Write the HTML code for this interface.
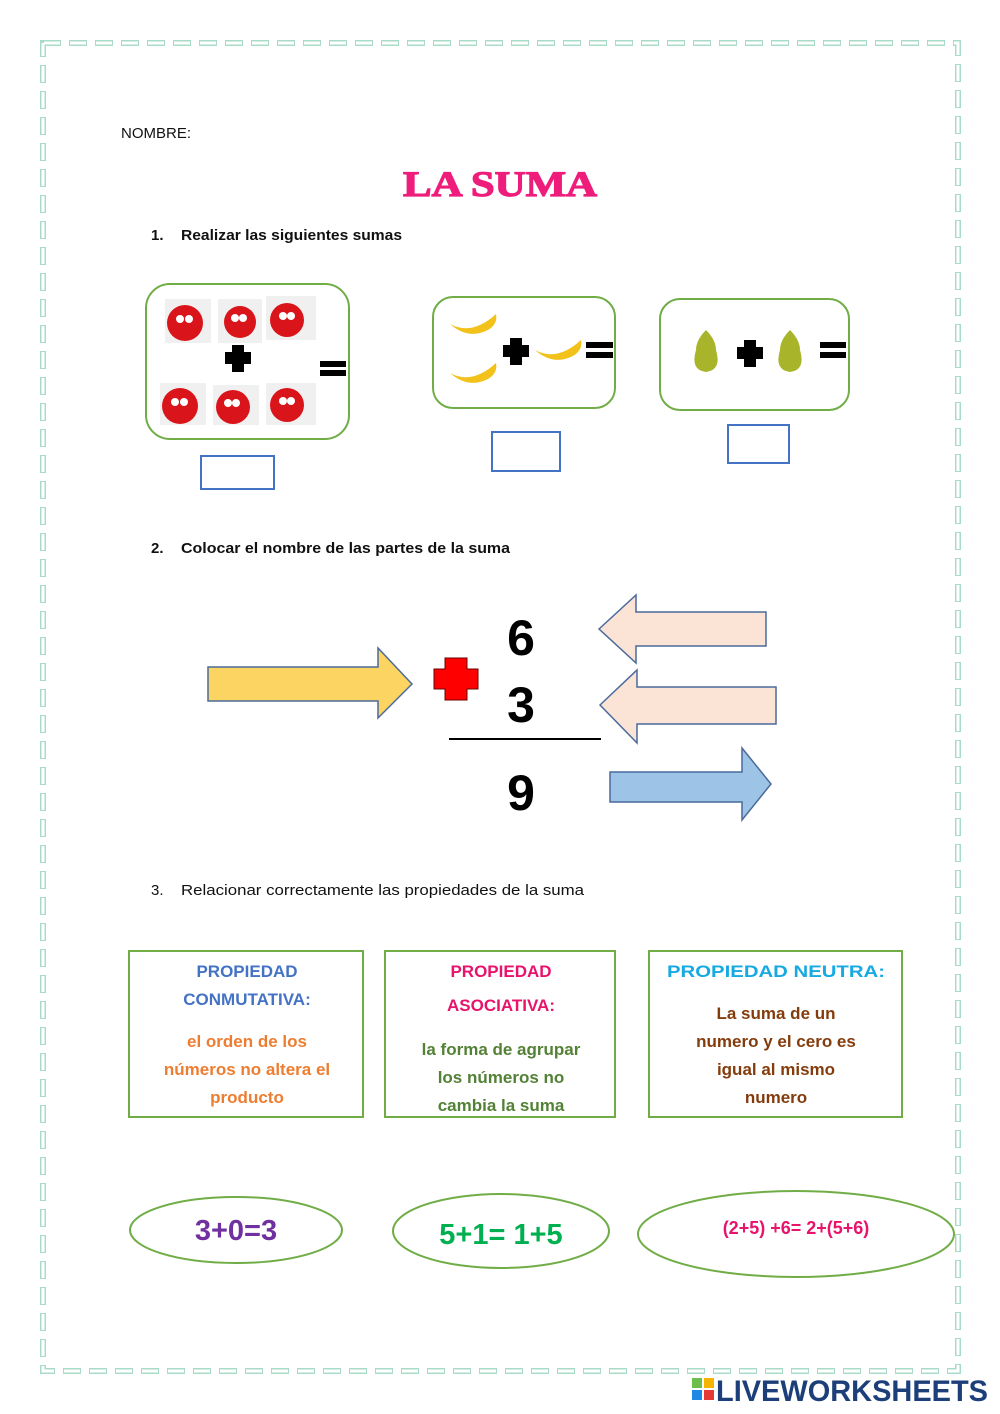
<!DOCTYPE html>
<html><head><meta charset="utf-8"><style>
html,body{margin:0;padding:0;background:#fff;}
svg{display:block;}
text{font-family:"Liberation Sans",Arial,sans-serif;}
</style></head><body>
<svg width="1000" height="1414" viewBox="0 0 1000 1414" xmlns="http://www.w3.org/2000/svg">
<rect x="43" y="43" width="915" height="1328" fill="none" stroke="#a9dcc8" stroke-width="6" stroke-dasharray="18 8"/>
<rect x="43" y="43" width="915" height="1328" fill="none" stroke="#fff" stroke-width="3" stroke-dasharray="16 10" stroke-dashoffset="-1"/>

<text x="121" y="138" font-size="15" fill="#111">NOMBRE:</text>
<text x="403" y="196" font-size="36" font-weight="bold" style="font-family:'Liberation Serif',serif" fill="#ee1c7a" stroke="#ee1c7a" stroke-width="1.2" textLength="194" lengthAdjust="spacingAndGlyphs">LA SUMA</text>
<text x="151" y="240" font-size="15" font-weight="bold" fill="#111">1.</text>
<text x="181" y="240" font-size="15" font-weight="bold" fill="#111" textLength="221" lengthAdjust="spacingAndGlyphs">Realizar las siguientes sumas</text>

<rect x="146" y="284" width="203" height="155" rx="24" fill="#fff" stroke="#70ad47" stroke-width="2"/>
<g fill="#f0f0f0">
<rect x="165" y="299" width="46" height="44"/><rect x="218" y="299" width="44" height="44"/><rect x="266" y="296" width="50" height="44"/>
<rect x="160" y="383" width="46" height="42"/><rect x="213" y="385" width="46" height="40"/><rect x="266" y="383" width="50" height="42"/>
</g>
<g fill="#d9141a">
<circle cx="185" cy="323" r="18"/><circle cx="240" cy="322" r="16"/><circle cx="287" cy="320" r="17"/>
<circle cx="180" cy="406" r="18"/><circle cx="233" cy="407" r="17"/><circle cx="287" cy="405" r="17"/>
</g>
<g fill="#fff"><circle cx="180" cy="319" r="4"/><circle cx="189" cy="319" r="4"/><circle cx="235" cy="318" r="4"/><circle cx="243" cy="318" r="4"/><circle cx="283" cy="316" r="4"/><circle cx="291" cy="316" r="4"/>
<circle cx="175" cy="402" r="4"/><circle cx="184" cy="402" r="4"/><circle cx="228" cy="403" r="4"/><circle cx="236" cy="403" r="4"/><circle cx="283" cy="401" r="4"/><circle cx="291" cy="401" r="4"/></g>
<path d="M232 345h12v7h7v12h-7v8h-12v-8h-7v-12h7z" fill="#000"/>
<rect x="320" y="361" width="26" height="6" fill="#000"/><rect x="320" y="370" width="26" height="6" fill="#000"/>
<rect x="201" y="456" width="73" height="33" fill="none" stroke="#4472c4" stroke-width="2"/>

<rect x="433" y="297" width="182" height="111" rx="20" fill="#fff" stroke="#70ad47" stroke-width="2"/>
<g fill="#f2c21b">
<path d="M450 324q22 12 46-10q2 10-8 16q-20 10-38-6z"/>
<path d="M450 373q22 12 46-10q2 10-8 16q-20 10-38-6z"/>
<path d="M535 350q22 12 46-10q2 10-8 16q-20 10-38-6z"/>
</g>
<path d="M510 338h12v7h7v12h-7v8h-12v-8h-7v-12h7z" fill="#000"/>
<rect x="586" y="342" width="27" height="6" fill="#000"/><rect x="586" y="352" width="27" height="6" fill="#000"/>
<rect x="492" y="432" width="68" height="39" fill="none" stroke="#4472c4" stroke-width="2"/>

<rect x="660" y="299" width="189" height="111" rx="20" fill="#fff" stroke="#70ad47" stroke-width="2"/>
<g fill="#a8b52a">
<path d="M706 330q10 10 10 20q6 20-10 22q-16-2-10-22q0-10 10-20z"/>
<path d="M790 330q10 10 10 20q6 20-10 22q-16-2-10-22q0-10 10-20z"/>
</g>
<path d="M744 340h12v7h7v12h-7v8h-12v-8h-7v-12h7z" fill="#000"/>
<rect x="820" y="342" width="26" height="6" fill="#000"/><rect x="820" y="352" width="26" height="6" fill="#000"/>
<rect x="728" y="425" width="61" height="38" fill="none" stroke="#4472c4" stroke-width="2"/>

<text x="151" y="553" font-size="15" font-weight="bold" fill="#111">2.</text>
<text x="181" y="553" font-size="15" font-weight="bold" fill="#111" textLength="329" lengthAdjust="spacingAndGlyphs">Colocar el nombre de las partes de la suma</text>

<path d="M208 667H378V648L412 684L378 718V701H208Z" fill="#fcd462" stroke="#4a6a9c" stroke-width="1.5"/>
<path d="M599 629L636 595V612H766V646H636V663Z" fill="#fbe3d5" stroke="#4a6a9c" stroke-width="1.5"/>
<path d="M600 705L637 670V687H776V724H637V743Z" fill="#fbe3d5" stroke="#4a6a9c" stroke-width="1.5"/>
<path d="M610 772H742V748L771 784L742 820V802H610Z" fill="#9dc3e6" stroke="#4a6a9c" stroke-width="1.5"/>
<path d="M445 658h22v11h11v20h-11v11h-22v-11h-11v-20h11z" fill="#ff0000" stroke="#6b0000" stroke-width="1"/>
<text x="521" y="655" font-size="50" font-weight="bold" fill="#000" text-anchor="middle">6</text>
<text x="521" y="722" font-size="50" font-weight="bold" fill="#000" text-anchor="middle">3</text>
<line x1="449" y1="739" x2="601" y2="739" stroke="#000" stroke-width="2"/>
<text x="521" y="810" font-size="50" font-weight="bold" fill="#000" text-anchor="middle">9</text>

<text x="151" y="895" font-size="15" fill="#111">3.</text>
<text x="181" y="895" font-size="15" fill="#111" textLength="403" lengthAdjust="spacingAndGlyphs">Relacionar correctamente las propiedades de la suma</text>

<rect x="129" y="951" width="234" height="166" fill="none" stroke="#70ad47" stroke-width="2"/>
<rect x="385" y="951" width="230" height="166" fill="none" stroke="#70ad47" stroke-width="2"/>
<rect x="649" y="951" width="253" height="166" fill="none" stroke="#70ad47" stroke-width="2"/>
<g font-size="17" font-weight="bold" text-anchor="middle">
<text x="247" y="977" fill="#4472c4">PROPIEDAD</text>
<text x="247" y="1005" fill="#4472c4">CONMUTATIVA:</text>
<text x="247" y="1047" fill="#ed7d31">el orden de los</text>
<text x="247" y="1075" fill="#ed7d31">números no altera el</text>
<text x="247" y="1103" fill="#ed7d31">producto</text>
<text x="501" y="977" fill="#e8136b">PROPIEDAD</text>
<text x="501" y="1011" fill="#e8136b">ASOCIATIVA:</text>
<text x="501" y="1055" fill="#538135">la forma de agrupar</text>
<text x="501" y="1083" fill="#538135">los números no</text>
<text x="501" y="1111" fill="#538135">cambia la suma</text>
<text x="776" y="977" fill="#17a9e1" textLength="218" lengthAdjust="spacingAndGlyphs">PROPIEDAD NEUTRA:</text>
<text x="776" y="1019" fill="#843c0c">La suma de un</text>
<text x="776" y="1047" fill="#843c0c">numero y el cero es</text>
<text x="776" y="1075" fill="#843c0c">igual al mismo</text>
<text x="776" y="1103" fill="#843c0c">numero</text>
</g>

<ellipse cx="236" cy="1230" rx="106" ry="33" fill="none" stroke="#70ad47" stroke-width="2"/>
<ellipse cx="501" cy="1231" rx="108" ry="37" fill="none" stroke="#70ad47" stroke-width="2"/>
<ellipse cx="796" cy="1234" rx="158" ry="43" fill="none" stroke="#70ad47" stroke-width="2"/>
<text x="236" y="1240" font-size="29" font-weight="bold" fill="#7030a0" text-anchor="middle">3+0=3</text>
<text x="501" y="1244" font-size="29" font-weight="bold" fill="#00b050" text-anchor="middle">5+1= 1+5</text>
<text x="796" y="1234" font-size="18" font-weight="bold" fill="#e8136b" text-anchor="middle">(2+5) +6= 2+(5+6)</text>

<rect x="692" y="1378" width="10" height="10" fill="#6cbf4a"/><rect x="704" y="1378" width="10" height="10" fill="#f4b400"/>
<rect x="692" y="1390" width="10" height="10" fill="#1e88e5"/><rect x="704" y="1390" width="10" height="10" fill="#e53935"/>
<text x="716" y="1401" font-size="30" font-weight="bold" fill="#1c3f7a" textLength="272" lengthAdjust="spacingAndGlyphs">LIVEWORKSHEETS</text>
</svg>
</body></html>
